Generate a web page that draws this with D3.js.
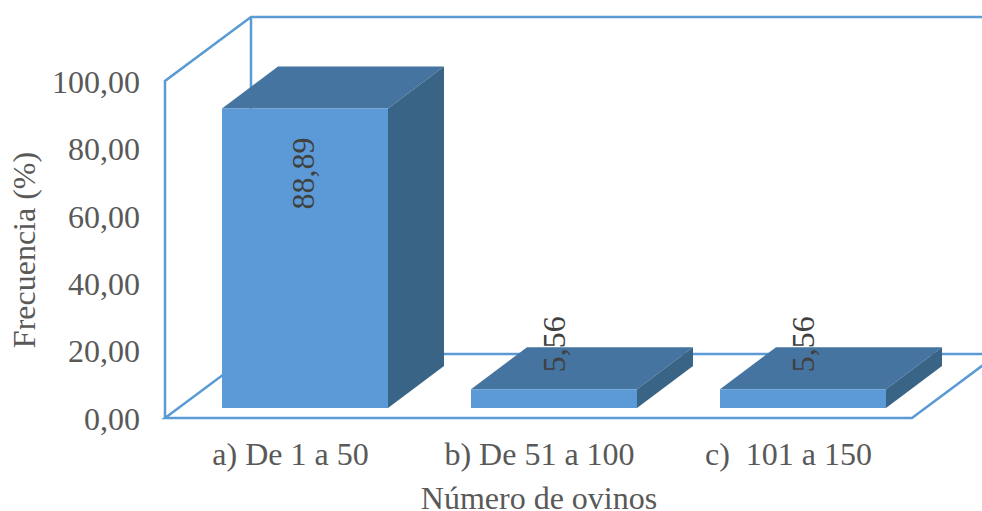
<!DOCTYPE html>
<html>
<head>
<meta charset="utf-8">
<script src="https://cdn.jsdelivr.net/npm/d3@7"></script>
<style>
  html, body { margin: 0; padding: 0; background: #fff; }
  svg { display: block; }
  text { font-family: "Liberation Serif", serif; white-space: pre; }
</style>
</head>
<body>
<script>
const categories = ["a) De 1 a 50", "b) De 51 a 100", "c)  101 a 150"];
const values = [88.89, 5.56, 5.56];
const valueLabels = ["88,89", "5,56", "5,56"];
const yTicks = [0, 20, 40, 60, 80, 100];

const width = 982, height = 511;
const wall = {left: 165, right: 912, bottom: 418, top: 81};
const depth = {dx: 86, dy: -64};       // profundidad del piso
const barDepth = {dx: 56, dy: -42};    // profundidad de las barras
const barLift = 10;                    // las barras flotan un poco sobre el piso

const svg = d3.select("body").append("svg")
    .attr("width", width)
    .attr("height", height);

const yScale = d3.scaleLinear().domain([0, 100]).range([wall.bottom, wall.top]);
const xAxisScale = d3.scaleBand().domain(categories).range([wall.left, wall.right]);
const xScale = d3.scaleBand().domain(categories)
    .range([wall.left + 15.5, wall.right + 15.5])
    .paddingInner(1 / 3).paddingOuter(1 / 6);

// Paredes y piso
const lineColor = "#5b9bd5";
const frame = d3.path();
frame.moveTo(wall.left, wall.bottom);
frame.lineTo(wall.left, wall.top);
frame.lineTo(wall.left + depth.dx, wall.top + depth.dy);
frame.lineTo(width + 2, wall.top + depth.dy);
frame.moveTo(wall.left + depth.dx, wall.top + depth.dy);
frame.lineTo(wall.left + depth.dx, wall.bottom + depth.dy);
frame.lineTo(width + 2, wall.bottom + depth.dy);
frame.moveTo(wall.left + depth.dx, wall.bottom + depth.dy);
frame.lineTo(wall.left, wall.bottom);
frame.lineTo(wall.right, wall.bottom);
frame.lineTo(wall.right + depth.dx, wall.bottom + depth.dy);

svg.append("path")
    .attr("d", frame.toString())
    .attr("fill", "none")
    .attr("stroke", lineColor)
    .attr("stroke-width", 2.5);

// Barras 3D
const bars = svg.append("g").selectAll("g")
    .data(values)
    .join("g");

const bx = (d, i) => xScale(categories[i]);
const by = d => yScale(d) - barLift;
const bb = yScale(0) - barLift;
const bw = xScale.bandwidth();

bars.append("path")
    .attr("fill", "#44749f")
    .attr("d", (d, i) => {
        const x = bx(d, i), y = by(d);
        return `M${x},${y}L${x + barDepth.dx},${y + barDepth.dy}L${x + bw + barDepth.dx},${y + barDepth.dy}L${x + bw},${y}Z`;
    });

bars.append("path")
    .attr("fill", "#3a6486")
    .attr("d", (d, i) => {
        const x = bx(d, i) + bw, y = by(d);
        return `M${x},${y}L${x + barDepth.dx},${y + barDepth.dy}L${x + barDepth.dx},${bb + barDepth.dy}L${x},${bb}Z`;
    });

bars.append("rect")
    .attr("fill", "#5b9ad6")
    .attr("x", bx)
    .attr("y", by)
    .attr("width", bw)
    .attr("height", d => bb - by(d));

// Etiquetas de valores
svg.append("g").selectAll("text")
    .data(values)
    .join("text")
    .attr("transform", (d, i) => `translate(${bx(d, i) + bw / 2 + (i === 0 ? 9 : 11)},${by(d) + barDepth.dy / 2 + (i === 0 ? 86 : -24)}) rotate(-90)`)
    .attr("text-anchor", "middle")
    .attr("fill", "#404040")
    .style("font-size", "32px")
    .text((d, i) => valueLabels[i]);

// Ejes
const yAxis = svg.append("g")
    .attr("transform", `translate(${wall.left},1)`)
    .call(d3.axisLeft(yScale).tickValues(yTicks).tickSize(0).tickPadding(25)
        .tickFormat(d => d3.format(".2f")(d).replace(".", ",")));
yAxis.select(".domain").remove();
yAxis.selectAll("text").style("font-size", "32px").style("font-family", "Liberation Serif").attr("fill", "#595959");

const xAxis = svg.append("g")
    .attr("transform", `translate(1,${wall.bottom})`)
    .call(d3.axisBottom(xAxisScale).tickSize(0).tickPadding(24));
xAxis.select(".domain").remove();
xAxis.selectAll("text").style("font-size", "32px").style("font-family", "Liberation Serif").attr("fill", "#595959");

// Titulos de ejes
svg.append("text")
    .attr("transform", "translate(35,250) rotate(-90)")
    .attr("text-anchor", "middle")
    .attr("fill", "#595959")
    .style("font-size", "32px")
    .text("Frecuencia (%)");

svg.append("text")
    .attr("x", 539)
    .attr("y", 509)
    .attr("text-anchor", "middle")
    .attr("fill", "#595959")
    .style("font-size", "32px")
    .text("Número de ovinos");
</script>
</body>
</html>
